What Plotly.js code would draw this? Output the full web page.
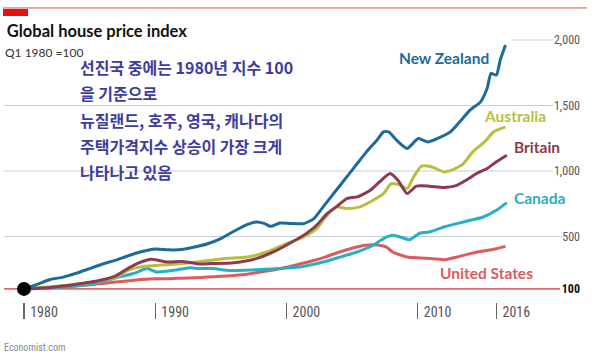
<!DOCTYPE html>
<html><head><meta charset="utf-8">
<script src="https://cdn.plot.ly/plotly-3.0.1.min.js"></script>
<style>html,body{margin:0;padding:0;background:#fff}#c{width:615px;height:355px}</style>
</head><body><div id="c"></div>
<script>
// ---- data ----
const nzYears = [1980,1981,1982,1983,1984,1985,1986,1987,1988,1989,1990,1991,1992,1993,1994,1995,1996,1997,1997.7,1998.3,1998.8,1999.5,2000.3,2001.3,2002.1,2002.8,2003.6,2004.6,2005.4,2006.1,2006.9,2007.4,2007.8,2008.4,2009.2,2010.05,2010.8,2011.7,2012.5,2013.2,2014.0,2014.8,2015.3,2015.6,2016.0,2016.3,2016.7];
const nzValues = [100,135,172,190,220,255,290,320,355,385,405,398,400,420,445,484,540,590,611,600,578,603,600,598,637,726,828,955,1057,1146,1235,1299,1299,1235,1172,1248,1222,1256,1299,1375,1465,1528,1631,1745,1732,1847,1962];

const auYears = [1980,1981,1982,1983,1984,1985,1986,1987,1988,1989,1990,1991,1992.65,1995.2,1997,1998.5,2000,2001.3,2002.3,2003.1,2003.8,2004.6,2005.6,2006.6,2007.4,2008.0,2008.7,2009.2,2009.7,2010.3,2011.1,2012.0,2012.6,2013.5,2014.2,2015.1,2015.8,2016.7];
const auValues = [100,108,116,124,135,148,165,190,245,270,278,285,300,331,343,382,446,496,560,662,726,713,726,777,828,904,891,866,955,1037,1031,993,1006,1057,1146,1222,1299,1337];

const gbYears = [1980,1981,1982,1983,1984,1985,1986,1987,1988,1988.8,1989.7,1990.9,1992.1,1993.4,1994.2,1996.0,1997.7,1999.0,2000.3,2001.5,2002.3,2003.1,2003.8,2004.6,2005.4,2006.4,2007.1,2007.9,2008.5,2009.2,2009.9,2010.9,2012.0,2013.0,2013.7,2014.5,2015.3,2016.0,2016.8];
const gbValues = [100,104,110,122,135,150,170,200,260,300,326,305,310,290,293,300,331,382,450,522,586,675,726,790,802,853,917,981,930,828,884,884,874,891,930,981,1019,1070,1121];

const caYears = [1980,1981,1982,1983,1984,1985,1986,1987,1988.3,1989.4,1990.1,1991.4,1992.65,1993.4,1994.4,1995.7,1997.7,1999.5,2001.0,2002.8,2004.1,2005.4,2006.6,2007.4,2008.1,2008.8,2009.4,2010.2,2010.9,2012.0,2013.0,2014.0,2015.0,2016.0,2016.8];
const caValues = [100,106,108,115,122,135,155,185,216,255,229,242,262,255,255,240,247,255,267,305,343,382,433,484,509,492,476,527,534,573,598,624,649,700,759];

const usYears = [1980,1981,1982,1983,1984,1985,1986,1987,1988,1989,1990,1991,1992,1993,1994,1995,1996,1997,1998,1999,2000,2001,2002,2003,2004,2005,2006,2006.9,2007.6,2008.1,2009.2,2010.2,2011.2,2012.1,2013.0,2014.0,2015.0,2016.0,2016.7];
const usValues = [100,105,110,117,125,132,142,152,162,172,178,178,182,185,190,196,203,212,228,245,265,290,315,345,380,410,433,435,420,382,343,336,331,323,343,369,389,407,425];

const seriesNames = ['New Zealand','Australia','Britain','Canada','United States'];
const seriesColors = ['#1d6b9c','#b8bf3e','#8c3a50','#2aaec4','#dd5b60'];
const baseValue = 100;
const gridValues = [500,1000,1500];
const yTickVals = [100,500,1000,1500,2000];
const yTickText = ['<span style="color:#111"><b>100</b></span>','500','1,000','1,500','2,000'];
const xTickVals = [1980,1990,2000,2010,2016];
const xTickText = ['1980','1990','2000','2010','2016'];
const noteLines = ['선진국 중에는 1980년 지수 100','을 기준으로','뉴질랜드, 호주, 영국, 캐나다의','주택가격지수 상승이 가장 크게','나타나고 있음'];

// ---- geometry helpers (pixel layout of the reference) ----
const L = 4, R = 583, T = 30, B = 301.6;
const xPerYear = 13.12, yPerUnit = 0.1308;
const px2yr = p => 1980 + (p - 24) / xPerYear;
const py2val = p => (B - p) / yPerUnit;
const pxPaper = p => (p - L) / (R - L);
const pyPaper = p => (B - p) / (B - T);

const NARROW = '"Liberation Sans Narrow", "Arial Narrow", "Roboto Condensed", Lato, sans-serif';
const LATO = 'Lato, "Open Sans", sans-serif';
const KR = '"Noto Sans CJK KR", "Noto Sans", sans-serif';

const allX = [nzYears, auYears, gbYears, caYears, usYears];
const allY = [nzValues, auValues, gbValues, caValues, usValues];
const order = [4,3,1,2,0];
const traces = order.map(i => ({
  type:'scatter', mode:'lines', x: allX[i], y: allY[i], name: seriesNames[i],
  line:{color: seriesColors[i], width:3, shape:'spline', smoothing:0.6}, hoverinfo:'skip'
}));
traces.push({type:'scatter', mode:'markers', x:[nzYears[0]], y:[baseValue],
  marker:{color:'#000', size:14}, hoverinfo:'skip'});

const shapes = [];
// top red rule
shapes.push({type:'line', xref:'paper', yref:'paper', x0:pxPaper(3), x1:pxPaper(587), y0:pyPaper(8), y1:pyPaper(8), line:{color:'#e5504a', width:1}});
shapes.push({type:'rect', xref:'paper', yref:'paper', x0:pxPaper(3), x1:pxPaper(28), y0:pyPaper(9), y1:pyPaper(16), fillcolor:'#e3120b', line:{width:0}});
// gridlines
const gridEnds = {500:562, 1000:553, 1500:553};
gridValues.forEach(v => shapes.push({type:'line', xref:'paper', yref:'y', layer:'below', x0:0, x1:pxPaper(gridEnds[v]), y0:v, y1:v, line:{color:'#c6cfd7', width:1.2}}));
shapes.push({type:'line', xref:'paper', yref:'y', layer:'below', x0:pxPaper(513), x1:pxPaper(553), y0:2000, y1:2000, line:{color:'#c6cfd7', width:1.2}});
shapes.push({type:'line', xref:'paper', yref:'y', layer:'below', x0:0, x1:pxPaper(560), y0:baseValue, y1:baseValue, line:{color:'#e06a6a', width:1.6}});

const annotations = [];
// subtitle & source
annotations.push({xref:'paper', yref:'paper', x:pxPaper(3), y:pyPaper(52), xanchor:'left', yanchor:'middle', showarrow:false, text:'Q1 1980 =100', font:{family:LATO, size:12, color:'#333'}});
annotations.push({xref:'paper', yref:'paper', x:pxPaper(2), y:pyPaper(347), xanchor:'left', yanchor:'middle', showarrow:false, text:'Economist.com', font:{family:NARROW, size:10, color:'#888'}});
// series labels
const labelPos = [[397,58],[482,116],[512,147],[512,198],[438,273]];
seriesNames.forEach((n,i) => annotations.push({xref:'x', yref:'y', x:px2yr(labelPos[i][0]), y:py2val(labelPos[i][1]), xanchor:'left', yanchor:'middle', showarrow:false,
  text:'<b>'+n+'</b>', font:{family:LATO, size:15.5, color:seriesColors[i]}}));
// korean note
noteLines.forEach((t,i) => annotations.push({xref:'paper', yref:'paper', x:pxPaper(78), y:pyPaper(67 + 26.3*i), xanchor:'left', yanchor:'middle', showarrow:false,
  text:'<b>'+t+'</b>', font:{family:KR, size:16, color:'#3d3d9e'}}));

const layout = {
  width:615, height:355, margin:{l:L, r:615-R, t:T, b:355-B}, paper_bgcolor:'#fff', plot_bgcolor:'#fff',
  showlegend:false,
  title:{text:'<b>Global house price index</b>', x:3/615, xanchor:'left', xref:'paper', y:1-31/355, yanchor:'middle', yref:'container', font:{family:LATO, size:16.5, color:'#111'}},
  xaxis:{range:[px2yr(L), px2yr(R)], tickvals:xTickVals, ticktext:xTickText, ticks:'outside', ticklen:16, tickwidth:1.3, tickcolor:'#666',
    showgrid:false, zeroline:false, showline:false, tickfont:{family:NARROW, size:14, color:'#555'}, ticklabelshift:20, ticklabelstandoff:-19},
  yaxis:{range:[0, (B-T)/yPerUnit], side:'right', ticklabelposition:'inside', ticks:'', tickvals:yTickVals, ticktext:yTickText,
    showgrid:false, zeroline:false, showline:false, tickfont:{family:NARROW, size:12, color:'#555'}},
  shapes, annotations
};
Plotly.newPlot('c', traces, layout, {staticPlot:true, displayModeBar:false});
</script></body></html>
